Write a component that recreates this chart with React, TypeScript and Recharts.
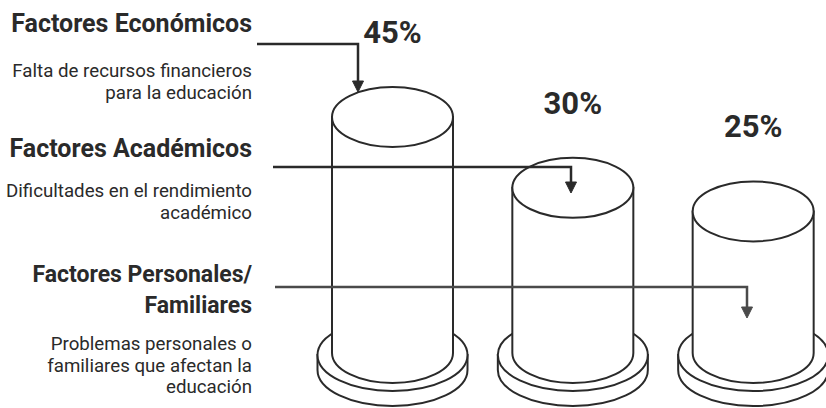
import { BarChart, Bar, XAxis, YAxis, LabelList } from "recharts"

const categories = ["Factores Económicos", "Factores Académicos", "Factores Personales/Familiares"]
const shares = [45, 30, 25]
const titleLines = [["Factores Económicos"], ["Factores Académicos"], ["Factores Personales/", "Familiares"]]
const descLines = [
  ["Falta de recursos financieros", "para la educación"],
  ["Dificultades en el rendimiento", "académico"],
  ["Problemas personales o", "familiares que afectan la", "educación"],
]

const data = categories.map((name, i) => ({ name, value: shares[i] }))

const W = 850
const H = 408
const margin = { top: 117, right: 7, bottom: 55, left: 302 }
const BASE_Y = H - margin.bottom
const INK = "#2a2a2a"
const FONT = "Roboto, sans-serif"

// cylinder drawn on the bar box, sitting on a flat disk
function Cylinder(props: any) {
  const { x, y, width } = props
  const cx = x + width / 2
  const rx = width / 2
  const ry = 30
  const bx = 75
  const by = 36
  const dTop = BASE_Y + 2
  const dBot = dTop + 15
  return (
    <g stroke={INK} strokeWidth={2} fill="#fff">
      <path
        d={`M${cx - bx},${dTop} L${cx - bx},${dBot} A${bx} ${by} 0 0 0 ${cx + bx},${dBot} L${cx + bx},${dTop} Z`}
      />
      <ellipse cx={cx} cy={dTop} rx={bx} ry={by} />
      <path
        d={`M${x},${y} L${x},${BASE_Y} A${rx} ${ry} 0 0 0 ${x + width},${BASE_Y} L${x + width},${y} Z`}
      />
      <ellipse cx={cx} cy={y} rx={rx} ry={ry} />
    </g>
  )
}

function PctLabel(props: any) {
  const { x, y, width, value } = props
  return (
    <text
      x={x + width / 2}
      y={y - 74}
      textAnchor="middle"
      fontFamily={FONT}
      fontWeight={700}
      fontSize={31}
      fill={INK}
    >
      {value}%
    </text>
  )
}

// left-hand notes and leader arrows
const titleBase = [[32], [157], [282, 313]]
const titleSize = [25, 25, 23]
const descBase = [[77, 99], [197, 219], [350, 372, 393]]
const arrows = [
  { x0: 257, y: 44, x1: 358, tip: 92 },
  { x0: 273, y: 167, x1: 571, tip: 193 },
  { x0: 275, y: 287, x1: 747, tip: 318 },
]

function Notes() {
  const right = 252
  return (
    <svg width={826} height={408} style={{ position: "absolute", left: 0, top: 0, pointerEvents: "none" }}>
      {titleLines.map((lines, i) =>
        lines.map((t, j) => (
          <text
            key={`t${i}${j}`}
            x={right}
            y={titleBase[i][j]}
            textAnchor="end"
            fontFamily={FONT}
            fontWeight={700}
            fontSize={titleSize[i]}
            fill={INK}
          >
            {t}
          </text>
        ))
      )}
      {descLines.map((lines, i) =>
        lines.map((t, j) => (
          <text
            key={`d${i}${j}`}
            x={right}
            y={descBase[i][j]}
            textAnchor="end"
            fontFamily={FONT}
            fontSize={18.7}
            fill={INK}
          >
            {t}
          </text>
        ))
      )}
      {arrows.map((a, i) => (
        <g key={`a${i}`} stroke={i === 2 ? "#4a4a4a" : INK} fill={i === 2 ? "#4a4a4a" : INK}>
          <path d={`M${a.x0},${a.y} L${a.x1},${a.y} L${a.x1},${a.tip - 9}`} fill="none" strokeWidth={2.5} />
          <path d={`M${a.x1 - 5.5},${a.tip - 11} L${a.x1 + 5.5},${a.tip - 11} L${a.x1},${a.tip} Z`} strokeWidth={1} />
        </g>
      ))}
    </svg>
  )
}

export default function App() {
  return (
    <div style={{ position: "absolute", left: 0, top: 0, width: 826, height: 408, overflow: "hidden", background: "#fff" }}>
      <BarChart width={W} height={H} data={data} margin={margin}>
        <XAxis dataKey="name" hide />
        <YAxis hide domain={[-5, 45]} />
        <Bar dataKey="value" barSize={121} shape={<Cylinder />} isAnimationActive={false}>
          <LabelList dataKey="value" content={<PctLabel />} />
        </Bar>
      </BarChart>
      <Notes />
    </div>
  )
}
